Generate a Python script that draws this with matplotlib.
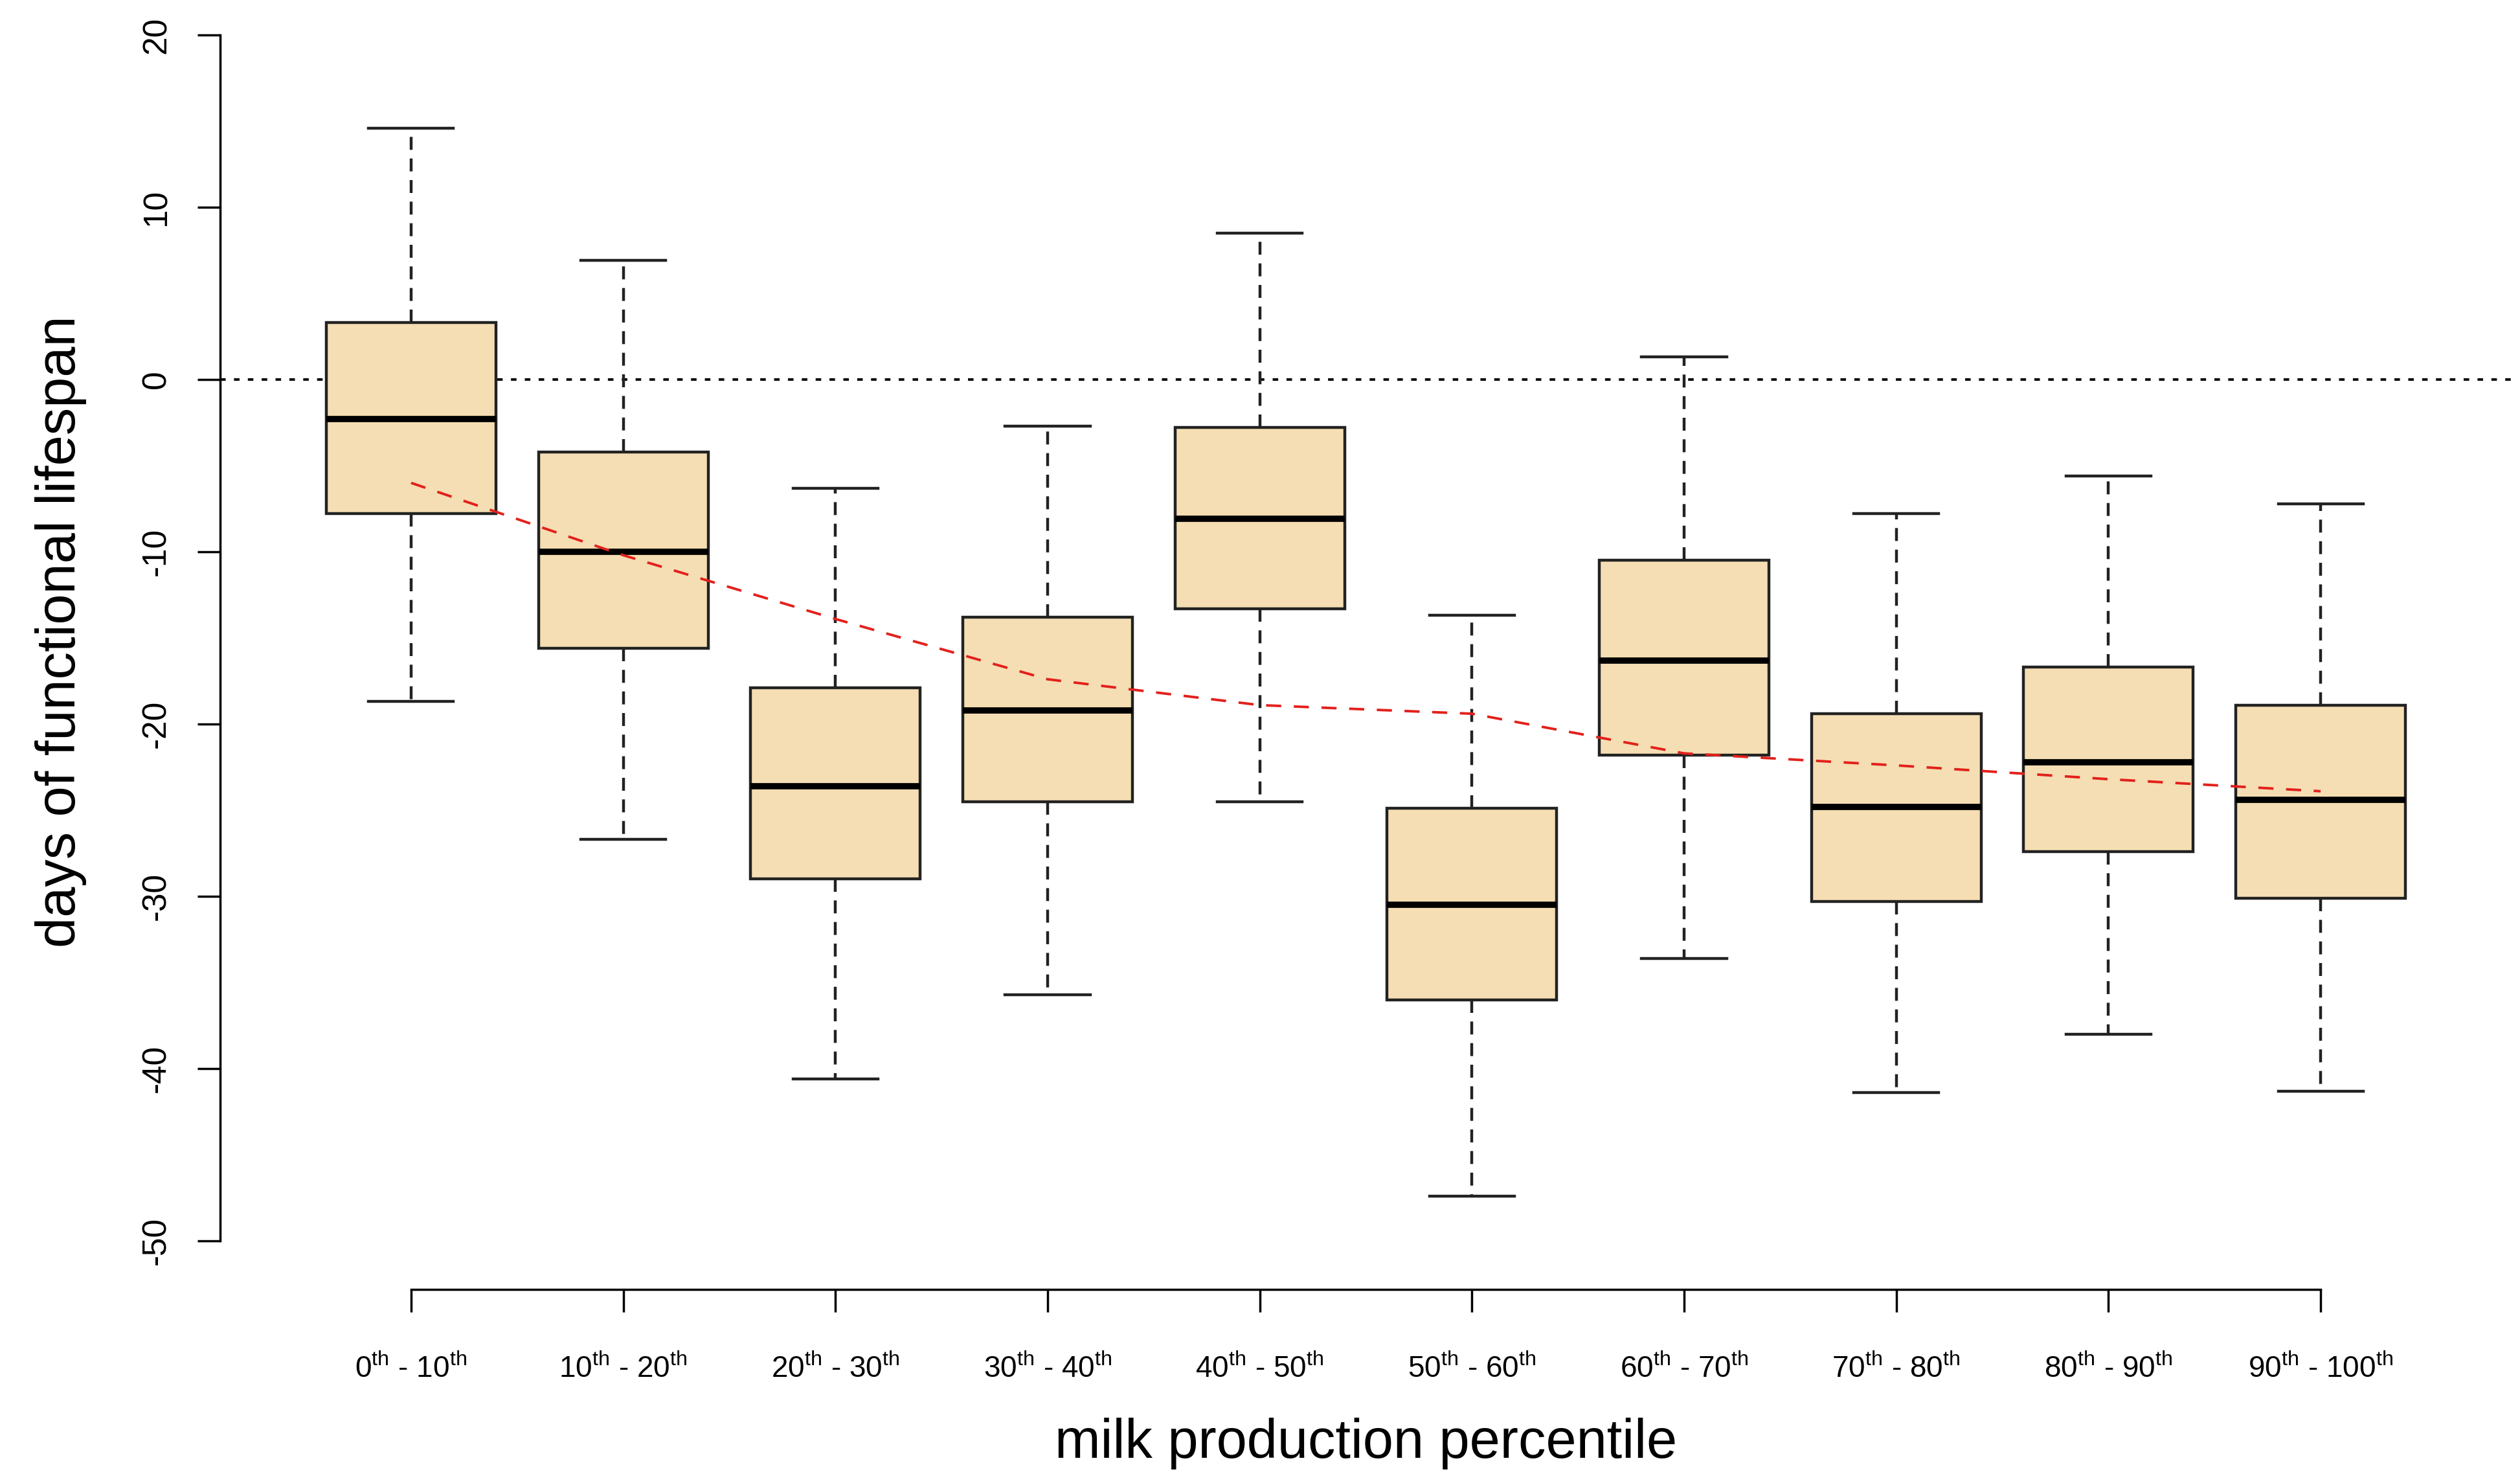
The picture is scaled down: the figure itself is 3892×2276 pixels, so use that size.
import matplotlib
matplotlib.use("Agg")
import matplotlib.pyplot as plt

plt.rcParams["font.family"] = ["Liberation Sans", "DejaVu Sans"]
plt.rcParams["mathtext.fontset"] = "custom"
plt.rcParams["mathtext.rm"] = "Liberation Sans"
plt.rcParams["mathtext.it"] = "Liberation Sans:italic"
plt.rcParams["axes.unicode_minus"] = False

# Percentile classes of milk production
pct_lower = [0, 10, 20, 30, 40, 50, 60, 70, 80, 90]
pct_upper = [10, 20, 30, 40, 50, 60, 70, 80, 90, 100]
categories = [f"{a}$^{{\\mathrm{{th}}}}$ - {b}$^{{\\mathrm{{th}}}}$"
              for a, b in zip(pct_lower, pct_upper)]

# Box statistics (days of functional lifespan)
whisker_high = [14.6, 6.9, -6.3, -2.7, 8.5, -13.7, 1.3, -7.8, -5.6, -7.2]
q3 = [3.3, -4.2, -17.9, -13.8, -2.8, -24.9, -10.5, -19.4, -16.7, -18.9]
median = [-2.3, -10.0, -23.6, -19.2, -8.1, -30.5, -16.3, -24.8, -22.2, -24.4]
q1 = [-7.8, -15.6, -29.0, -24.5, -13.3, -36.0, -21.8, -30.3, -27.4, -30.1]
whisker_low = [-18.7, -26.7, -40.6, -35.7, -24.5, -47.4, -33.6, -41.4, -38.0, -41.3]

# Fitted trend across classes
trend = [-6.0, -10.2, -13.9, -17.4, -18.9, -19.4, -21.7, -22.4, -23.2, -23.9]

y_ticks = [-50, -40, -30, -20, -10, 0, 10, 20]

W, H = 3892, 2276
fig = plt.figure(figsize=(W / 100, H / 100), dpi=100)
ax = fig.add_axes([340 / W, (H - 1990.5) / H, 3539 / W, 1990.5 / H])

positions = list(range(1, len(categories) + 1))
stats = [
    dict(whishi=wh, q3=u, med=m, q1=l, whislo=wl, fliers=[])
    for wh, u, m, l, wl in zip(whisker_high, q3, median, q1, whisker_low)
]

ax.axhline(0, color="black", lw=2.8, linestyle=(0, (2.2, 3.3)), zorder=1)

ax.bxp(
    stats,
    positions=positions,
    widths=0.8,
    capwidths=0.4,
    showfliers=False,
    patch_artist=True,
    boxprops=dict(facecolor="#F5DEB3", edgecolor="#222222", linewidth=3.2),
    medianprops=dict(color="black", linewidth=7),
    whiskerprops=dict(color="#222222", linewidth=3.2, linestyle=(0, (4.5, 3))),
    capprops=dict(color="#222222", linewidth=3.2),
    zorder=2,
)

ax.plot(positions, trend, color="#e3201b", lw=2.8, linestyle=(0, (6, 5)), zorder=4)

ax.set_xlim(0.1, 10.9)
ax.set_ylim(-52.8, 22.03)

for side in ("top", "right"):
    ax.spines[side].set_visible(False)
ax.spines["left"].set_bounds(-50, 20)
ax.spines["bottom"].set_bounds(1, 10)
ax.spines["left"].set_linewidth(2.5)
ax.spines["bottom"].set_linewidth(2.5)

ax.set_yticks(y_ticks)
ax.set_yticklabels([str(v) for v in y_ticks], rotation=90, va="center")
ax.set_xticks(positions)
ax.set_xticklabels(categories)

ax.tick_params(axis="y", length=25, width=2.5, labelsize=37, pad=28)
ax.tick_params(axis="x", length=25, width=2.5, labelsize=33, pad=48)

ax.set_xlabel("milk production percentile", fontsize=61)
ax.xaxis.set_label_coords(0.5, -0.12)
ax.xaxis.label.set_va("center")
ax.set_ylabel("days of functional lifespan", fontsize=61)
ax.yaxis.set_label_coords(-0.0695, 0.51)
ax.yaxis.label.set_va("center")

fig.savefig("out.png", dpi=100, facecolor="white")
